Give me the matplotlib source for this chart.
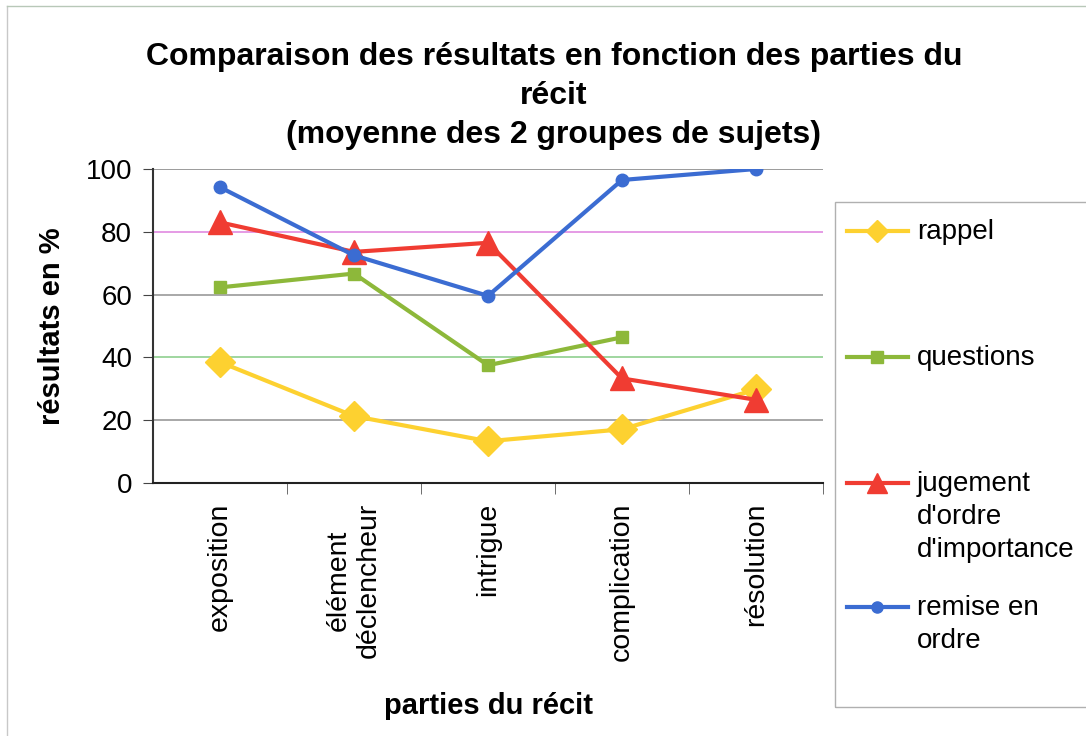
import matplotlib
matplotlib.use("Agg")
from matplotlib import pyplot as plt
from matplotlib.lines import Line2D
from matplotlib.patches import Rectangle

plt.rcParams['font.family'] = ['Liberation Sans', 'DejaVu Sans']

parties = ["exposition", "élément\ndéclencheur", "intrigue", "complication", "résolution"]
rappel = [38.5, 21.3, 13.3, 17.1, 29.8]
questions = [62.3, 66.7, 37.5, 46.4, None]
jugement = [83.0, 73.6, 76.5, 33.3, 26.5]
remise = [94.2, 72.5, 59.6, 96.5, 100.0]

series = [
    ("rappel", rappel, '#FDD130', 'D', 15, 11),
    ("questions", questions, '#8DB83A', 's', 9, 8),
    ("jugement\nd'ordre\nd'importance", jugement, '#F03C32', '^', 17, 15),
    ("remise en\nordre", remise, '#3B6CD2', 'o', 9, 8),
]

W, H = 1086, 736
fig = plt.figure(figsize=(W / 100, H / 100), dpi=100)
ax = fig.add_axes([153 / W, 1 - 483 / H, 670 / W, 314 / H])

x = list(range(len(parties)))
for label, vals, col, mk, ms, lms in series:
    xs = [i for i, v in zip(x, vals) if v is not None]
    ys = [v for v in vals if v is not None]
    ax.plot(xs, ys, color=col, lw=3, marker=mk, ms=ms, mec=col, mfc=col, zorder=3)

ax.set_xlim(-0.5, len(parties) - 0.5)
ax.set_ylim(0, 100)
ax.set_yticks([0, 20, 40, 60, 80, 100])
ax.tick_params(axis='y', labelsize=20, length=7, direction='out', pad=8, color='#444444')
ax.set_xticks(x)
ax.set_xticklabels(parties, rotation=90, fontsize=20.5, va='top', ha='center', multialignment='center')
ax.set_xticks([i + 0.5 for i in x], minor=True)
ax.tick_params(axis='x', which='major', length=0, pad=14)
ax.tick_params(axis='x', which='minor', length=8, direction='out', color='#555555')

grid_cols = {20: '#9a9a9a', 40: '#8fd08f', 60: '#9a9a9a', 80: '#e08ae0', 100: '#8a8a8a'}
for yv, gc in grid_cols.items():
    ax.axhline(yv, color=gc, lw=1.2, zorder=1)

ax.spines['right'].set_visible(False)
ax.spines['top'].set_visible(False)
ax.spines['left'].set_color('#333333')
ax.spines['bottom'].set_color('#222222')
ax.spines['left'].set_linewidth(1.5)
ax.spines['bottom'].set_linewidth(1.5)

ax.set_ylabel("résultats en %", fontsize=21, fontweight='bold', labelpad=14)
ax.set_xlabel("parties du récit", fontsize=21, fontweight='bold', labelpad=22)

fig.text(554 / W, 1 - 96 / H,
         "Comparaison des résultats en fonction des parties du\nrécit\n(moyenne des 2 groupes de sujets)",
         ha='center', va='center', fontsize=23, fontweight='bold', linespacing=1.38)

# legend drawn by hand to keep Excel-like spacing
fig.patches.append(Rectangle((835 / W, 1 - 707 / H), 260 / W, 505 / H, transform=fig.transFigure,
                             fill=False, edgecolor='#b0b0b0', lw=1))
leg_y = [231, 357, 483, 607]
for (label, vals, col, mk, ms, lms), yp in zip(series, leg_y):
    yf = 1 - yp / H
    fig.add_artist(Line2D([847 / W, 908 / W], [yf, yf], transform=fig.transFigure, color=col, lw=3))
    fig.add_artist(Line2D([877 / W], [yf], transform=fig.transFigure, color=col,
                          marker=mk, ms=lms, mec=col, mfc=col))
    fig.text(917 / W, yf + 12 / H, label, ha='left', va='top', fontsize=20, linespacing=1.35)

# outer frame lines
fig.add_artist(Line2D([7 / W, 7 / W], [0, 1 - 6 / H], transform=fig.transFigure, color='#c8c8c8', lw=1))
fig.add_artist(Line2D([7 / W, 1], [1 - 6 / H, 1 - 6 / H], transform=fig.transFigure, color='#b8c8b8', lw=1))

fig.savefig("out.png", dpi=100)
